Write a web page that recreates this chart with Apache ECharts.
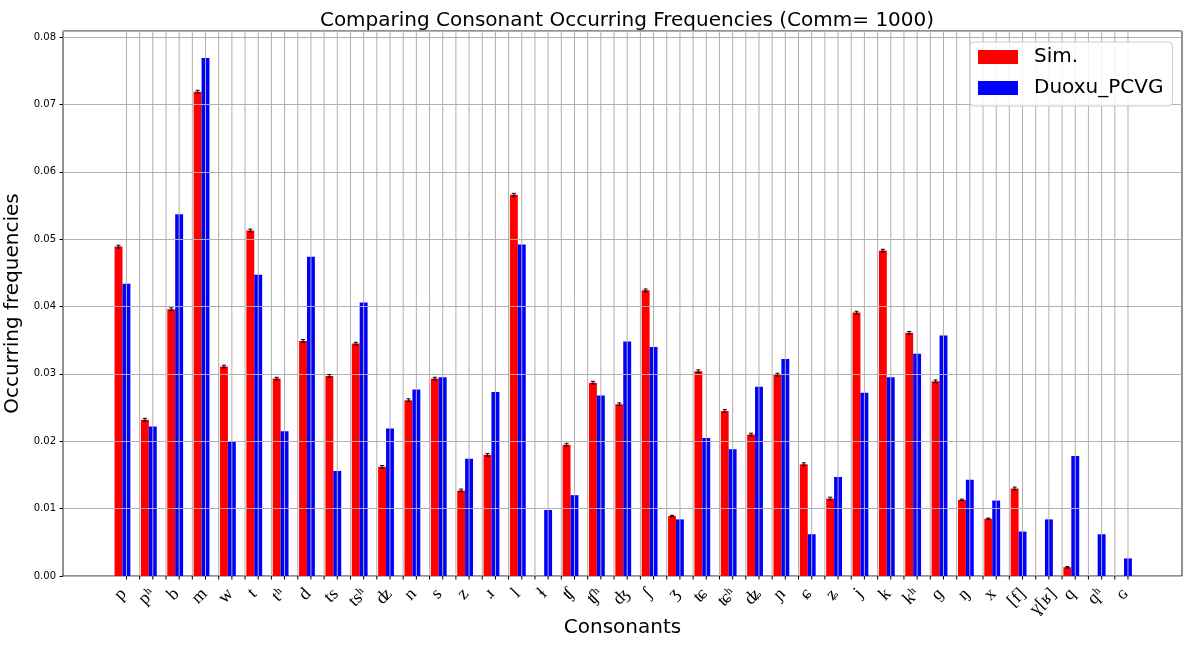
<!DOCTYPE html>
<html>
<head>
<meta charset="utf-8">
<script src="https://cdn.jsdelivr.net/npm/echarts@6/dist/echarts.min.js"></script>
<style>
  html, body { margin: 0; padding: 0; background: #fff; }
  #main { width: 1188px; height: 653px; }
</style>
</head>
<body>
<div id="main"></div>
<script>
// Consonant inventory (IPA)
const CATEGORIES = ['p', 'pʰ', 'b', 'm', 'w', 't', 'tʰ', 'd', 'ts', 'tsʰ', 'ʣ', 'n', 's', 'z', 'ɹ', 'l', 'ɬ',
  'ʧ', 'ʧʰ', 'ʤ', 'ʃ', 'ʒ', 'ʨ', 'ʨʰ', 'ʥ', 'ɲ', 'ɕ', 'ʑ', 'j', 'k', 'kʰ', 'ɡ', 'ŋ', 'x', '[f]', 'ɣ[ʁ]', 'q', 'qʰ', 'ɢ'];

// Simulated occurring frequencies (mean) and their error half-widths
const SIM = [0.0489, 0.0232, 0.0396, 0.0719, 0.0311, 0.0513, 0.0293, 0.0349, 0.0297, 0.0345, 0.0162, 0.0261, 0.0293,
  0.0127, 0.0180, 0.0566, 0.0, 0.0195, 0.0287, 0.0255, 0.0424, 0.0089, 0.0304, 0.0245, 0.0210, 0.0299, 0.0166,
  0.0115, 0.0391, 0.0483, 0.0361, 0.0289, 0.0113, 0.0085, 0.0130, 0.0, 0.0013, 0.0, 0.0];
const SIM_ERR = [0.0002, 0.0002, 0.0002, 0.0002, 0.0002, 0.0002, 0.0002, 0.0002, 0.0002, 0.0002, 0.0002, 0.0002, 0.0002,
  0.0002, 0.0002, 0.0002, 0.0, 0.0002, 0.0002, 0.0002, 0.0002, 0.0001, 0.0002, 0.0002, 0.0002, 0.0002, 0.0002,
  0.0002, 0.0002, 0.0002, 0.0002, 0.0002, 0.0001, 0.0001, 0.0002, 0.0, 0.0001, 0.0, 0.0];

// Frequencies in the Duoxu PCVG data
const DUOXU = [0.0434, 0.0222, 0.0537, 0.0769, 0.0200, 0.0447, 0.0215, 0.0474, 0.0156, 0.0406, 0.0219, 0.0277, 0.0295,
  0.0174, 0.0273, 0.0492, 0.0098, 0.0120, 0.0268, 0.0348, 0.0340, 0.0084, 0.0205, 0.0188, 0.0281, 0.0322, 0.0062,
  0.0147, 0.0272, 0.0295, 0.0330, 0.0357, 0.0143, 0.0112, 0.0066, 0.0084, 0.0178, 0.0062, 0.0026];

const SERIES_NAMES = ['Sim.', 'Duoxu_PCVG'];
const TITLE = 'Comparing Consonant Occurring Frequencies (Comm= 1000)';

// Layout in category units: each category holds a red/blue bar pair
const BAR_W = 0.3;
const OFFSETS = [-0.15, 0.15];
const X_MIN = -2.257, X_MAX = 40.2, Y_MAX = 0.0809;
const GRID_COLOR = '#b0b0b0';
const SANS = '"DejaVu Sans", sans-serif';
const LABEL_SIZE = 18;
const LABEL_FAMILY = '"Liberation Serif", "DejaVu Serif", serif';
const LABEL_PAD = 9;
const LABEL_SHIFT = -0.07;

// Vertical grid/tick positions: at every blue bar and halfway between
const gridXs = [];
CATEGORIES.forEach((c, i) => {
  gridXs.push(i + OFFSETS[1]);
  if (i < CATEGORIES.length - 1) gridXs.push(i + OFFSETS[1] + 0.5);
});

const measureCtx = document.createElement('canvas').getContext('2d');
measureCtx.font = LABEL_SIZE + 'px ' + LABEL_FAMILY;

function barRenderer(offset) {
  return function (params, api) {
    const i = api.value(0), v = api.value(1);
    if (!(v > 0)) return null;
    const a = api.coord([i + offset - BAR_W / 2, v]);
    const b = api.coord([i + offset + BAR_W / 2, 0]);
    return {
      type: 'rect',
      shape: { x: a[0], y: a[1], width: b[0] - a[0], height: b[1] - a[1] },
      style: { fill: api.visual('color') }
    };
  };
}

const chart = echarts.init(document.getElementById('main'), null, { renderer: 'canvas' });

chart.setOption({
  animation: false,
  backgroundColor: '#ffffff',
  title: {
    text: TITLE,
    left: 622,
    top: 6,
    textAlign: 'center',
    textStyle: { fontFamily: SANS, fontSize: 20, fontWeight: 'normal', color: '#000' }
  },
  legend: {
    data: SERIES_NAMES,
    orient: 'vertical',
    left: 970,
    top: 42,
    z: 10,
    icon: 'rect',
    itemWidth: 40,
    itemHeight: 14,
    itemGap: 11,
    padding: [5, 9, 8, 8],
    borderColor: '#cccccc',
    borderWidth: 1,
    borderRadius: 4,
    backgroundColor: 'rgba(255,255,255,0.85)',
    textStyle: { fontFamily: SANS, fontSize: 20, color: '#000', padding: [0, 0, 0, 11] }
  },
  grid: {
    left: 63, right: 6, top: 31, bottom: 77,
    outerBoundsMode: 'none',
    containLabel: false,
    show: true, borderColor: '#222', borderWidth: 1
  },
  xAxis: {
    type: 'value',
    min: X_MIN,
    max: X_MAX,
    axisLine: { show: false, onZero: false },
    axisTick: { show: false },
    axisLabel: { show: false },
    splitLine: { show: false },
    name: 'Consonants',
    nameLocation: 'middle',
    nameGap: 42,
    nameTextStyle: { fontFamily: SANS, fontSize: 20, color: '#000' }
  },
  yAxis: {
    type: 'value',
    min: 0,
    max: Y_MAX,
    interval: 0.01,
    z: 3,
    axisLine: { show: false, onZero: false },
    axisTick: { show: true, length: 3.5, lineStyle: { color: '#000', width: 1 } },
    axisLabel: {
      formatter: v => v.toFixed(2),
      showMaxLabel: false,
      fontFamily: SANS,
      fontSize: 10,
      color: '#000',
      margin: 7
    },
    splitLine: { show: true, lineStyle: { color: GRID_COLOR, width: 1 } },
    name: 'Occurring frequencies',
    nameLocation: 'middle',
    nameGap: 33,
    nameTextStyle: { fontFamily: SANS, fontSize: 20, color: '#000' }
  },
  series: [
    {
      name: SERIES_NAMES[0],
      type: 'custom',
      z: 2,
      itemStyle: { color: '#ff0000' },
      renderItem: barRenderer(OFFSETS[0]),
      encode: { x: 0, y: 1 },
      data: SIM.map((v, i) => [i, v])
    },
    {
      name: SERIES_NAMES[1],
      type: 'custom',
      z: 2,
      itemStyle: { color: '#0000ff' },
      renderItem: barRenderer(OFFSETS[1]),
      encode: { x: 0, y: 1 },
      data: DUOXU.map((v, i) => [i, v])
    },
    {
      // error bars on the simulated values
      name: 'sim-error',
      type: 'custom',
      z: 4,
      silent: true,
      renderItem: function (params, api) {
        const i = api.value(0), v = api.value(1), e = api.value(2);
        if (!(v > 0)) return null;
        const top = api.coord([i + OFFSETS[0], v + e]);
        const bot = api.coord([i + OFFSETS[0], v - e]);
        const style = { stroke: '#000', lineWidth: 1 };
        return {
          type: 'group',
          children: [
            { type: 'line', shape: { x1: top[0], y1: top[1], x2: bot[0], y2: bot[1] }, style },
            { type: 'line', shape: { x1: top[0] - 2, y1: top[1], x2: top[0] + 2, y2: top[1] }, style },
            { type: 'line', shape: { x1: bot[0] - 2, y1: bot[1], x2: bot[0] + 2, y2: bot[1] }, style }
          ]
        };
      },
      encode: { x: 0, y: 1 },
      data: SIM.map((v, i) => [i, v, SIM_ERR[i]])
    },
    {
      // vertical grid lines with their ticks
      name: 'x-grid',
      type: 'custom',
      z: 3,
      silent: true,
      clip: false,
      renderItem: function (params, api) {
        const x = api.value(0);
        const top = api.coord([x, Y_MAX]);
        const bot = api.coord([x, 0]);
        return {
          type: 'group',
          children: [
            { type: 'line', shape: { x1: top[0], y1: top[1], x2: bot[0], y2: bot[1] }, style: { stroke: GRID_COLOR, lineWidth: 1 } },
            { type: 'line', shape: { x1: bot[0], y1: bot[1], x2: bot[0], y2: bot[1] + 3.5 }, style: { stroke: '#000', lineWidth: 1 } }
          ]
        };
      },
      encode: { x: 0 },
      data: gridXs.map(x => [x, 0])
    },
    {
      // rotated category labels under the axis
      name: 'x-labels',
      type: 'custom',
      z: 3,
      silent: true,
      clip: false,
      renderItem: function (params, api) {
        const i = api.value(0);
        const text = CATEGORIES[params.dataIndex];
        const p = api.coord([i + LABEL_SHIFT, 0]);
        const w = measureCtx.measureText(text).width;
        const half = (w + LABEL_SIZE) / (2 * Math.SQRT2);
        return {
          type: 'text',
          x: p[0],
          y: p[1] + LABEL_PAD + half,
          rotation: Math.PI / 4,
          style: {
            text: text,
            fontSize: LABEL_SIZE,
            fontFamily: LABEL_FAMILY,
            fill: '#000',
            align: 'center',
            verticalAlign: 'middle'
          }
        };
      },
      encode: { x: 0 },
      data: CATEGORIES.map((c, i) => [i, 0])
    }
  ]
});
</script>
</body>
</html>
